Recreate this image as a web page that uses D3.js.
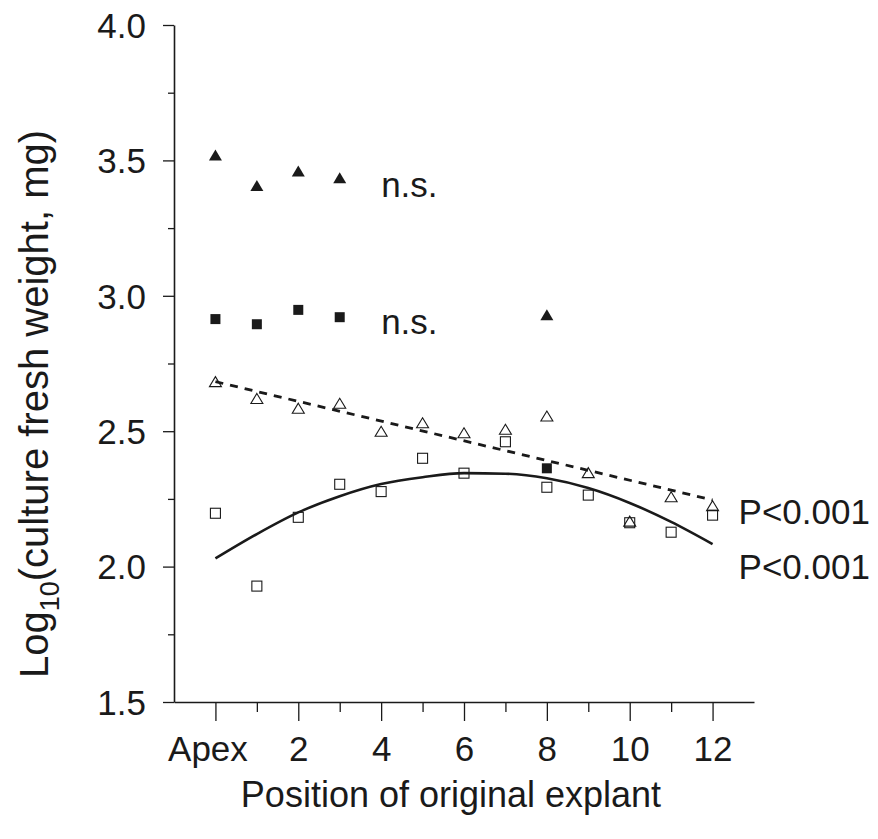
<!DOCTYPE html>
<html><head><meta charset="utf-8">
<script src="https://cdn.jsdelivr.net/npm/d3@7"></script>
<style>body{margin:0;background:#fff}</style>
</head><body><svg id="chart" width="878" height="839"></svg>
<script>
const positions = [0,1,2,3,4,5,6,7,8,9,10,11,12];
const openTriangleValues = [2.683,2.621,2.585,2.603,2.50,2.531,2.494,2.507,2.556,2.347,2.168,2.258,2.225];
const openSquareValues = [2.197,1.928,2.182,2.304,2.277,2.40,2.345,2.461,2.293,2.264,2.162,2.127,2.19];
const filledTrianglePositions = [0,1,2,3,8];
const filledTriangleValues = [3.52,3.407,3.461,3.436,2.93];
const filledSquarePositions = [0,1,2,3,8];
const filledSquareValues = [2.914,2.895,2.948,2.921,2.363];
const curveValues = [2.03,2.12,2.20,2.26,2.305,2.33,2.345,2.343,2.326,2.29,2.235,2.165,2.083];
const dashedPositions = [0,12];
const dashedValues = [2.683,2.246];
const xTickValues = [0,2,4,6,8,10,12];
const xTickLabels = ["Apex","2","4","6","8","10","12"];
const xMinorTicks = [1,3,5,7,9,11];
const yTickValues = [1.5,2.0,2.5,3.0,3.5,4.0];
const yMinorTicks = [1.75,2.25,2.75,3.25,3.75];
const nsLabels = [{x:4, y:3.41, text:"n.s."},{x:4, y:2.905, text:"n.s."}];
const pLabels = [{x:12, y:2.203, text:"P<0.001"},{x:12, y:2.0, text:"P<0.001"}];

const ink = "#1a1a1a";
const font = "'Liberation Sans', Arial, Helvetica, sans-serif";
const fs = 35;
const svg = d3.select("#chart");
svg.append("rect").attr("width",878).attr("height",839).attr("fill","#fff");

const x = d3.scaleLinear().domain([-1,13]).range([174,754]);
const y = d3.scaleLinear().domain([1.5,4.0]).range([702,25]);

// axes
const gx = svg.append("g").attr("transform","translate(0,702)");
gx.call(d3.axisBottom(x).tickValues(xTickValues).tickSize(19).tickFormat((d,i)=>xTickLabels[i]).tickSizeOuter(0));
const gxm = svg.append("g").attr("transform","translate(0,702)");
gxm.call(d3.axisBottom(x).tickValues(xMinorTicks).tickSize(10).tickFormat("").tickSizeOuter(0));
gxm.select(".domain").remove();

const gy = svg.append("g").attr("transform","translate(174,0)");
gy.call(d3.axisLeft(y).tickValues(yTickValues).tickSize(11).tickFormat(d3.format(".1f")).tickSizeOuter(0));
const gym = svg.append("g").attr("transform","translate(174,0)");
gym.call(d3.axisLeft(y).tickValues(yMinorTicks).tickSize(6).tickFormat("").tickSizeOuter(0));
gym.select(".domain").remove();

svg.selectAll(".domain").attr("stroke",ink).attr("stroke-width",1.6);
svg.selectAll(".tick line").attr("stroke",ink).attr("stroke-width",1.3);
gx.selectAll(".tick text").attr("font-family",font).attr("font-size",fs).attr("fill",ink).attr("dy","1.15em").attr("y",19);
gx.selectAll(".tick text").filter((d)=>d===0).attr("dx",-8);
gy.selectAll(".tick text").attr("font-family",font).attr("font-size",fs).attr("fill",ink).attr("x",-28).attr("dy","0.35em");

// axis titles
svg.append("text").attr("x",451).attr("y",807).attr("text-anchor","middle")
  .attr("font-family",font).attr("font-size",36).attr("fill",ink).text("Position of original explant");
const yl = svg.append("text").attr("transform","translate(48,404) rotate(-90)").attr("text-anchor","middle")
  .attr("font-family",font).attr("font-size",40).attr("fill",ink);
yl.append("tspan").text("Log");
yl.append("tspan").attr("font-size",27).attr("dy",11).text("10");
yl.append("tspan").attr("dy",-11).text("(culture fresh weight, mg)");

// lines
const curveLine = d3.line().x((d,i)=>x(positions[i])).y(d=>y(d)).curve(d3.curveMonotoneX);
svg.append("path").datum(curveValues).attr("d",curveLine).attr("fill","none").attr("stroke",ink).attr("stroke-width",2.6);
const dashLine = d3.line().x((d,i)=>x(dashedPositions[i])).y(d=>y(d));
svg.append("path").datum(dashedValues).attr("d",dashLine).attr("fill","none").attr("stroke",ink)
  .attr("stroke-width",2.8).attr("stroke-dasharray","8,7");

// markers
function tri(cx,cy,w,h){return `M${cx},${cy-h/2}L${cx+w/2},${cy+h/2}L${cx-w/2},${cy+h/2}Z`;}
svg.append("g").selectAll("path").data(openTriangleValues).join("path")
  .attr("d",(d,i)=>tri(x(positions[i]),y(d),12,10)).attr("fill","none").attr("stroke",ink).attr("stroke-width",1.1);
svg.append("g").selectAll("rect").data(openSquareValues).join("rect")
  .attr("x",(d,i)=>x(positions[i])-5).attr("y",d=>y(d)-5).attr("width",10).attr("height",10)
  .attr("fill","none").attr("stroke",ink).attr("stroke-width",1.1);
svg.append("g").selectAll("path").data(filledTriangleValues).join("path")
  .attr("d",(d,i)=>tri(x(filledTrianglePositions[i]),y(d),13,11)).attr("fill",ink);
svg.append("g").selectAll("rect").data(filledSquareValues).join("rect")
  .attr("x",(d,i)=>x(filledSquarePositions[i])-5).attr("y",d=>y(d)-5).attr("width",10).attr("height",10).attr("fill",ink);

// annotations
svg.append("g").selectAll("text").data(nsLabels).join("text")
  .attr("x",d=>x(d.x)).attr("y",d=>y(d.y)).attr("dy","0.35em").attr("font-family",font).attr("font-size",fs).attr("fill",ink).text(d=>d.text);
svg.append("g").selectAll("text").data(pLabels).join("text")
  .attr("x",d=>x(d.x)+26).attr("y",d=>y(d.y)).attr("dy","0.35em").attr("font-family",font).attr("font-size",fs).attr("fill",ink).text(d=>d.text);
</script></body></html>
